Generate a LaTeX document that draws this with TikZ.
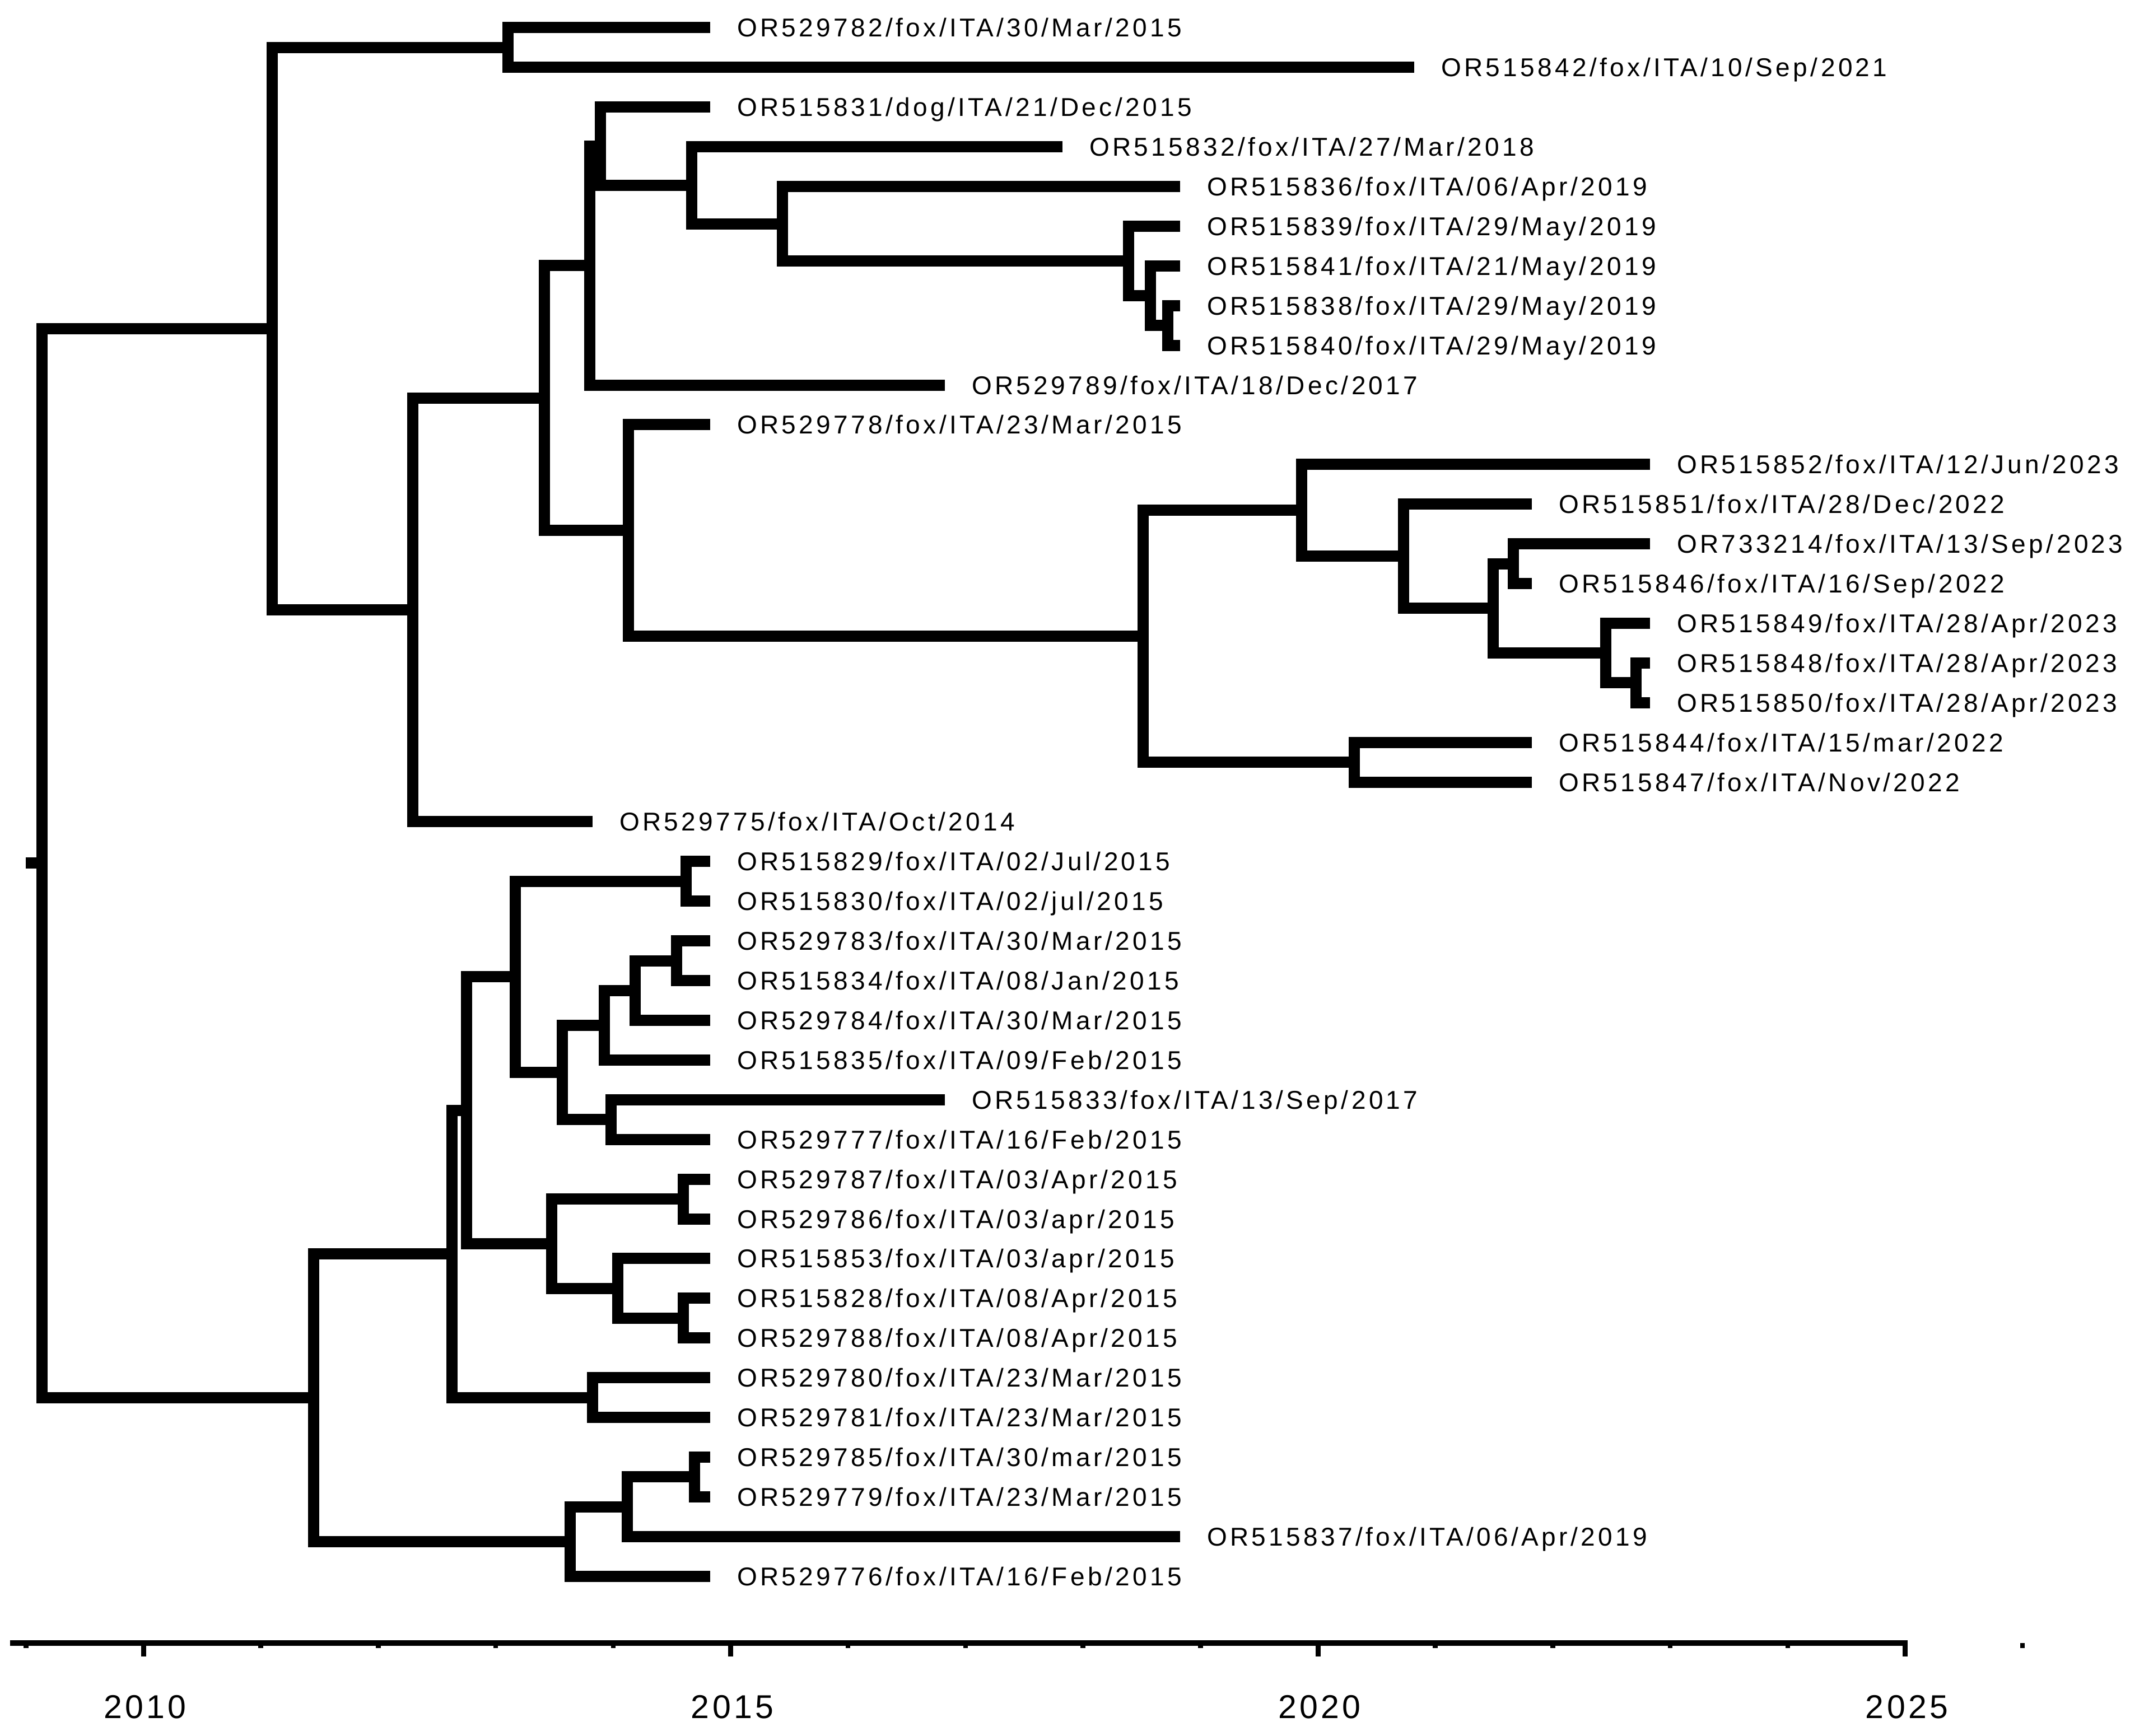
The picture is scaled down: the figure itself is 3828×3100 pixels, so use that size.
\documentclass[tikz,border=0pt]{standalone}
\usepackage{fontspec}
\usetikzlibrary{calc}
\newfontfamily\tipfont[LetterSpace=11.7]{Liberation Sans}
\newfontfamily\yearfont[LetterSpace=9]{Liberation Sans}
\tikzset{
  branch/.style={line width=4pt, line join=miter, line cap=butt},
  tiplab/.style={anchor=base west, inner sep=0pt, font=\tipfont\fontsize{9.2pt}{11pt}\selectfont},
  yearlab/.style={anchor=base, inner sep=0pt, font=\yearfont\fontsize{11.8pt}{13pt}\selectfont},
  axisline/.style={line width=2pt, line cap=butt},
  majortick/.style={line width=1.8pt, line cap=butt},
  minortick/.style={line width=1.7pt, line cap=butt}
}
\newcommand\tipdef[4]{\coordinate (#1) at (#2,#3); \node[tiplab] (lab#1) at ($(#1)+(47,16.5)$) {#4};}
\begin{document}
\begin{tikzpicture}[x=0.2pt,y=-0.2pt]
\useasboundingbox (0,0) rectangle (3828,3100);
% tips
\tipdef{t1}{1268}{49.5}{OR529782/fox/ITA/30/Mar/2015}
\tipdef{t2}{2525}{120.4}{OR515842/fox/ITA/10/Sep/2021}
\tipdef{t3}{1268}{191.3}{OR515831/dog/ITA/21/Dec/2015}
\tipdef{t4}{1897}{262.2}{OR515832/fox/ITA/27/Mar/2018}
\tipdef{t5}{2107}{333.1}{OR515836/fox/ITA/06/Apr/2019}
\tipdef{t6}{2107}{404.0}{OR515839/fox/ITA/29/May/2019}
\tipdef{t7}{2107}{474.9}{OR515841/fox/ITA/21/May/2019}
\tipdef{t8}{2107}{545.8}{OR515838/fox/ITA/29/May/2019}
\tipdef{t9}{2107}{616.7}{OR515840/fox/ITA/29/May/2019}
\tipdef{t10}{1687}{687.6}{OR529789/fox/ITA/18/Dec/2017}
\tipdef{t11}{1268}{758.5}{OR529778/fox/ITA/23/Mar/2015}
\tipdef{t12}{2946}{829.4}{OR515852/fox/ITA/12/Jun/2023}
\tipdef{t13}{2735}{900.3}{OR515851/fox/ITA/28/Dec/2022}
\tipdef{t14}{2946}{971.2}{OR733214/fox/ITA/13/Sep/2023}
\tipdef{t15}{2735}{1042.1}{OR515846/fox/ITA/16/Sep/2022}
\tipdef{t16}{2946}{1113.0}{OR515849/fox/ITA/28/Apr/2023}
\tipdef{t17}{2946}{1183.9}{OR515848/fox/ITA/28/Apr/2023}
\tipdef{t18}{2946}{1254.8}{OR515850/fox/ITA/28/Apr/2023}
\tipdef{t19}{2735}{1325.7}{OR515844/fox/ITA/15/mar/2022}
\tipdef{t20}{2735}{1396.6}{OR515847/fox/ITA/Nov/2022}
\tipdef{t21}{1058}{1467.5}{OR529775/fox/ITA/Oct/2014}
\tipdef{t22}{1268}{1538.4}{OR515829/fox/ITA/02/Jul/2015}
\tipdef{t23}{1268}{1609.3}{OR515830/fox/ITA/02/jul/2015}
\tipdef{t24}{1268}{1680.2}{OR529783/fox/ITA/30/Mar/2015}
\tipdef{t25}{1268}{1751.1}{OR515834/fox/ITA/08/Jan/2015}
\tipdef{t26}{1268}{1822.0}{OR529784/fox/ITA/30/Mar/2015}
\tipdef{t27}{1268}{1892.9}{OR515835/fox/ITA/09/Feb/2015}
\tipdef{t28}{1687}{1963.8}{OR515833/fox/ITA/13/Sep/2017}
\tipdef{t29}{1268}{2034.7}{OR529777/fox/ITA/16/Feb/2015}
\tipdef{t30}{1268}{2105.6}{OR529787/fox/ITA/03/Apr/2015}
\tipdef{t31}{1268}{2176.5}{OR529786/fox/ITA/03/apr/2015}
\tipdef{t32}{1268}{2247.4}{OR515853/fox/ITA/03/apr/2015}
\tipdef{t33}{1268}{2318.3}{OR515828/fox/ITA/08/Apr/2015}
\tipdef{t34}{1268}{2389.2}{OR529788/fox/ITA/08/Apr/2015}
\tipdef{t35}{1268}{2460.1}{OR529780/fox/ITA/23/Mar/2015}
\tipdef{t36}{1268}{2531.0}{OR529781/fox/ITA/23/Mar/2015}
\tipdef{t37}{1268}{2601.9}{OR529785/fox/ITA/30/mar/2015}
\tipdef{t38}{1268}{2672.8}{OR529779/fox/ITA/23/Mar/2015}
\tipdef{t39}{2107}{2743.7}{OR515837/fox/ITA/06/Apr/2019}
\tipdef{t40}{1268}{2814.6}{OR529776/fox/ITA/16/Feb/2015}
% internal nodes
\coordinate (root) at (75,1541.45);
\coordinate (rstub) at (46,1541.45);
\coordinate (nA) at (486,587.1);
\coordinate (nB) at (907,84.95);
\coordinate (nC) at (737,1089.2);
\coordinate (nD) at (972,710.9);
\coordinate (nE) at (1053,474.4);
\coordinate (nF) at (1072,261.1);
\coordinate (nG) at (1235,330.9);
\coordinate (nH) at (1397,399.6);
\coordinate (nI) at (2015,466.0);
\coordinate (nJ) at (2054,528.1);
\coordinate (nK) at (2085,581.25);
\coordinate (nL) at (1122,947.4);
\coordinate (nM) at (2041,1136.3);
\coordinate (nN) at (2324,911.4);
\coordinate (nP) at (2506,993.4);
\coordinate (nQ) at (2666,1086.4);
\coordinate (nR) at (2702,1006.65);
\coordinate (nS) at (2867,1166.2);
\coordinate (nT) at (2921,1219.35);
\coordinate (nO) at (2418,1361.15);
\coordinate (nU) at (560,2495.8);
\coordinate (nV1) at (807,2239.1);
\coordinate (nV2) at (833,1982.65);
\coordinate (nX) at (1058,2495.55);
\coordinate (nY) at (920,1744.5);
\coordinate (nZ) at (985,2220.8);
\coordinate (nAA) at (1225,1573.85);
\coordinate (nAB) at (1004,1915.1);
\coordinate (nAC) at (1079,1830.9);
\coordinate (nAD) at (1091,1999.25);
\coordinate (nAE) at (1134,1768.8);
\coordinate (nAF) at (1208,1715.65);
\coordinate (nAG) at (1220,2141.05);
\coordinate (nAH) at (1103,2300.6);
\coordinate (nAI) at (1220,2353.75);
\coordinate (nW) at (1018,2752.55);
\coordinate (nAJ) at (1120,2690.5);
\coordinate (nAK) at (1240,2637.35);
% branches
\draw[branch] (rstub) -- (root);
\draw[branch] (nA) -| (root) |- (nU);
\draw[branch] (nB) -| (nA) |- (nC);
\draw[branch] (t1) -| (nB) |- (t2);
\draw[branch] (nD) -| (nC) |- (t21);
\draw[branch] (nE) -| (nD) |- (nL);
\draw[branch] (nF) -| (nE) |- (t10);
\draw[branch] (t3) -| (nF) |- (nG);
\draw[branch] (t4) -| (nG) |- (nH);
\draw[branch] (t5) -| (nH) |- (nI);
\draw[branch] (t6) -| (nI) |- (nJ);
\draw[branch] (t7) -| (nJ) |- (nK);
\draw[branch] (t8) -| (nK) |- (t9);
\draw[branch] (t11) -| (nL) |- (nM);
\draw[branch] (nN) -| (nM) |- (nO);
\draw[branch] (t12) -| (nN) |- (nP);
\draw[branch] (t13) -| (nP) |- (nQ);
\draw[branch] (nR) -| (nQ) |- (nS);
\draw[branch] (t14) -| (nR) |- (t15);
\draw[branch] (t16) -| (nS) |- (nT);
\draw[branch] (t17) -| (nT) |- (t18);
\draw[branch] (t19) -| (nO) |- (t20);
\draw[branch] (nV1) -| (nU) |- (nW);
\draw[branch] (nV2) -| (nV1) |- (nX);
\draw[branch] (nY) -| (nV2) |- (nZ);
\draw[branch] (nAA) -| (nY) |- (nAB);
\draw[branch] (t22) -| (nAA) |- (t23);
\draw[branch] (nAC) -| (nAB) |- (nAD);
\draw[branch] (nAE) -| (nAC) |- (t27);
\draw[branch] (nAF) -| (nAE) |- (t26);
\draw[branch] (t24) -| (nAF) |- (t25);
\draw[branch] (t28) -| (nAD) |- (t29);
\draw[branch] (nAG) -| (nZ) |- (nAH);
\draw[branch] (t30) -| (nAG) |- (t31);
\draw[branch] (t32) -| (nAH) |- (nAI);
\draw[branch] (t33) -| (nAI) |- (t34);
\draw[branch] (t35) -| (nX) |- (t36);
\draw[branch] (nAJ) -| (nW) |- (t40);
\draw[branch] (nAK) -| (nAJ) |- (t39);
\draw[branch] (t37) -| (nAK) |- (t38);
% axis
\coordinate (axL) at (18,2934);
\coordinate (axR) at (3406,2934);
\draw[axisline] (axL) -- (axR);
\foreach \yr in {2009,2011,2012,2013,2014,2016,2017,2018,2019,2021,2022,2023,2024,2026}
  \draw[minortick] ({256+209.7*(\yr-2010)},2934) -- ({256+209.7*(\yr-2010)},2943);
\foreach \yr in {2010,2015,2020,2025}{
  \draw[majortick] ({256+209.7*(\yr-2010)},2934) -- ({256+209.7*(\yr-2010)},2958);
  \node[yearlab] (y\yr) at ({256+209.7*(\yr-2010)+3},3068) {\yr};
}
\end{tikzpicture}
\end{document}
